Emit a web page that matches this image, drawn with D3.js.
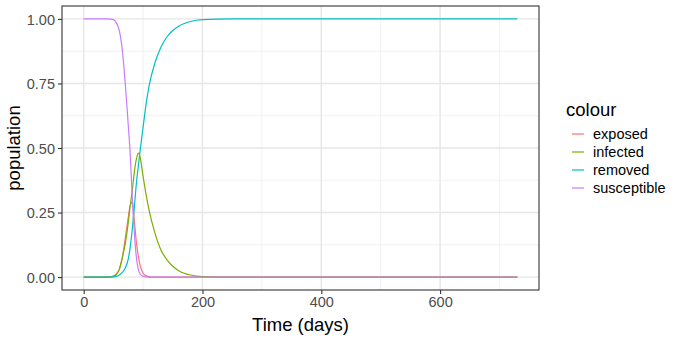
<!DOCTYPE html>
<html>
<head>
<meta charset="utf-8">
<script src="https://cdn.jsdelivr.net/npm/d3@7"></script>
<style>
  body { margin: 0; background: #fff; }
  svg text { font-family: "Liberation Sans", Arial, sans-serif; }
</style>
</head>
<body>
<div id="chart"></div>
<script>
// values
var days        = [0, 40, 50, 55, 60, 65, 70, 75, 78, 82, 86, 89, 92, 95, 100, 105, 110, 120, 130, 140, 150, 160, 180, 200, 250, 730];
var exposed     = [0, 0, 0.004, 0.012, 0.03, 0.075, 0.15, 0.23, 0.275, 0.29, 0.2, 0.13, 0.08, 0.045, 0.015, 0.005, 0.002, 0, 0, 0, 0, 0, 0, 0, 0, 0];
var infected    = [0, 0, 0.003, 0.01, 0.03, 0.075, 0.13, 0.21, 0.27, 0.34, 0.42, 0.46, 0.48, 0.465, 0.39, 0.32, 0.26, 0.17, 0.105, 0.068, 0.042, 0.025, 0.008, 0.002, 0, 0];
var removed     = [0, 0, 0.001, 0.003, 0.008, 0.018, 0.035, 0.07, 0.11, 0.19, 0.29, 0.37, 0.43, 0.49, 0.58, 0.67, 0.74, 0.83, 0.89, 0.93, 0.955, 0.972, 0.99, 0.997, 1, 1];
var susceptible = [1, 1, 0.997, 0.985, 0.955, 0.88, 0.75, 0.59, 0.49, 0.3, 0.15, 0.07, 0.03, 0.012, 0.003, 0.001, 0, 0, 0, 0, 0, 0, 0, 0, 0, 0];

var seriesNames = ["exposed", "infected", "removed", "susceptible"];
var seriesColors = ["#F8766D", "#7CAE00", "#00BFC4", "#C77CFF"];
var xTicks = [0, 200, 400, 600];
var xMinor = [100, 300, 500, 700];
var yTicks = [0, 0.25, 0.5, 0.75, 1];
var yMinor = [0.125, 0.375, 0.625, 0.875];

var w = 676;
var h = 340;
var panel = { left: 62, right: 539, top: 6, bottom: 290 };

var svg = d3.select("#chart")
    .append("svg")
    .attr("width", w)
    .attr("height", h);

// ggplot style 5% expansion
var x = d3.scaleLinear()
    .domain([0 - 36.5, 730 + 36.5])
    .range([panel.left, panel.right]);
var y = d3.scaleLinear()
    .domain([-0.05, 1.05])
    .range([panel.bottom, panel.top]);

var grid = svg.append("g");

// minor grid
grid.selectAll(".xminor")
    .data(xMinor)
    .enter()
    .append("line")
    .attr("x1", function (d) { return x(d); })
    .attr("x2", function (d) { return x(d); })
    .attr("y1", panel.top)
    .attr("y2", panel.bottom)
    .attr("stroke", "#EBEBEB")
    .attr("stroke-width", 0.7);
grid.selectAll(".yminor")
    .data(yMinor)
    .enter()
    .append("line")
    .attr("y1", function (d) { return y(d); })
    .attr("y2", function (d) { return y(d); })
    .attr("x1", panel.left)
    .attr("x2", panel.right)
    .attr("stroke", "#EBEBEB")
    .attr("stroke-width", 0.7);

// major grid
grid.selectAll(".xmajor")
    .data(xTicks)
    .enter()
    .append("line")
    .attr("x1", function (d) { return x(d); })
    .attr("x2", function (d) { return x(d); })
    .attr("y1", panel.top)
    .attr("y2", panel.bottom)
    .attr("stroke", "#E6E6E6")
    .attr("stroke-width", 1.4);
grid.selectAll(".ymajor")
    .data(yTicks)
    .enter()
    .append("line")
    .attr("y1", function (d) { return y(d); })
    .attr("y2", function (d) { return y(d); })
    .attr("x1", panel.left)
    .attr("x2", panel.right)
    .attr("stroke", "#E6E6E6")
    .attr("stroke-width", 1.4);

// lines
var allSeries = [exposed, infected, removed, susceptible];
var line = d3.line()
    .x(function (d, i) { return x(days[i]); })
    .y(function (d) { return y(d); })
    .curve(d3.curveMonotoneX);

svg.selectAll(".series")
    .data(allSeries)
    .enter()
    .append("path")
    .attr("d", line)
    .attr("fill", "none")
    .attr("stroke", function (d, i) { return seriesColors[i]; })
    .attr("stroke-width", 1.2);

// panel border
svg.append("rect")
    .attr("x", panel.left)
    .attr("y", panel.top)
    .attr("width", panel.right - panel.left)
    .attr("height", panel.bottom - panel.top)
    .attr("fill", "none")
    .attr("stroke", "#333333")
    .attr("stroke-width", 1.1);

// axes
var xAxis = svg.append("g")
    .attr("transform", "translate(0," + panel.bottom + ")")
    .call(d3.axisBottom(x).tickValues(xTicks).tickSize(4).tickPadding(3).tickFormat(d3.format("d")));
var yAxis = svg.append("g")
    .attr("transform", "translate(" + panel.left + ",0)")
    .call(d3.axisLeft(y).tickValues(yTicks).tickSize(4).tickPadding(3).tickFormat(d3.format(".2f")));

[xAxis, yAxis].forEach(function (a) {
    a.select(".domain").remove();
    a.selectAll(".tick line").attr("stroke", "#333333").attr("stroke-width", 1.1);
    a.selectAll(".tick text")
        .attr("fill", "#4D4D4D")
        .style("font-size", "14.5px");
});
yAxis.selectAll(".tick text").attr("dy", "0.36em");

// axis titles
svg.append("text")
    .text("Time (days)")
    .attr("x", (panel.left + panel.right) / 2)
    .attr("y", 331)
    .attr("text-anchor", "middle")
    .attr("fill", "#000")
    .style("font-size", "18.5px");

svg.append("text")
    .text("population")
    .attr("transform", "translate(20," + (panel.top + panel.bottom) / 2 + ") rotate(-90)")
    .attr("text-anchor", "middle")
    .attr("fill", "#000")
    .style("font-size", "18.5px");

// legend
var legend = svg.append("g");
legend.append("text")
    .text("colour")
    .attr("x", 566)
    .attr("y", 116)
    .attr("fill", "#000")
    .style("font-size", "18.5px");

var items = legend.selectAll(".item")
    .data(seriesNames)
    .enter()
    .append("g")
    .attr("transform", function (d, i) { return "translate(0," + (134 + i * 18) + ")"; });
items.append("line")
    .attr("x1", 572)
    .attr("x2", 584)
    .attr("stroke", function (d, i) { return seriesColors[i]; })
    .attr("stroke-width", 1.2);
items.append("text")
    .text(function (d) { return d; })
    .attr("x", 593)
    .attr("dy", "0.36em")
    .attr("fill", "#000")
    .style("font-size", "14.5px");
</script>
</body>
</html>
